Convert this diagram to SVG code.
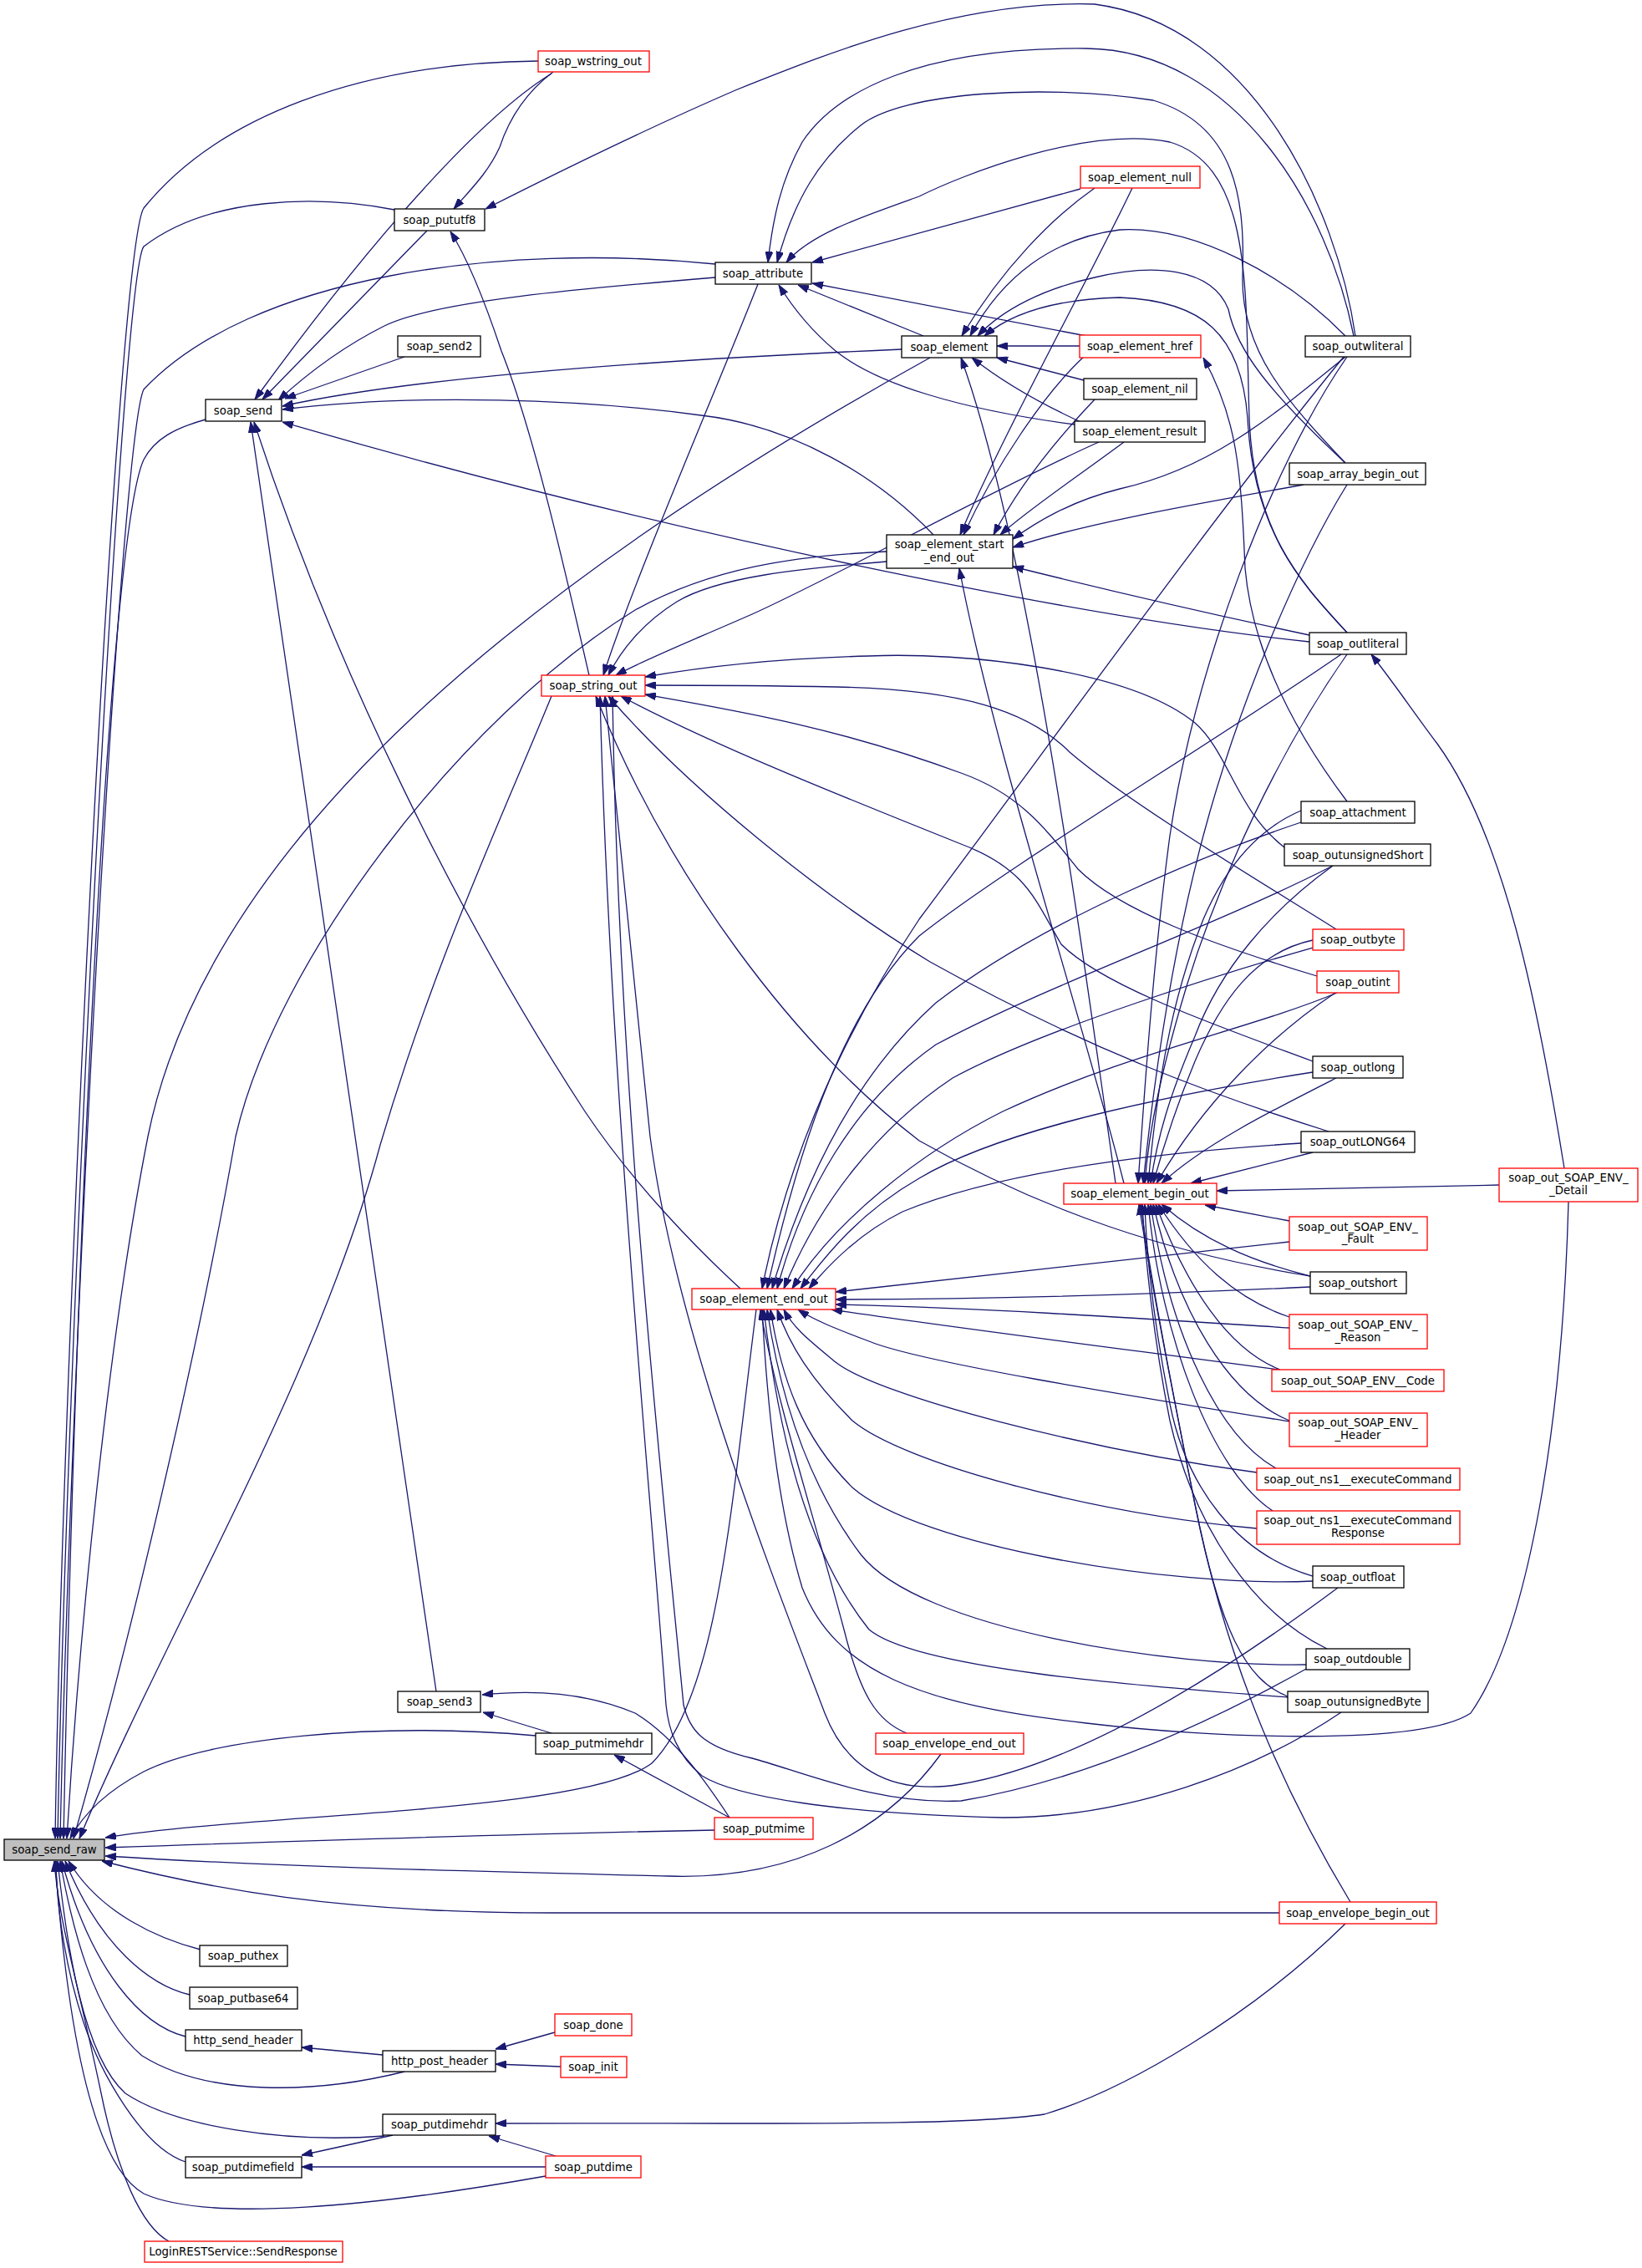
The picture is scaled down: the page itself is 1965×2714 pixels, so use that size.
<svg xmlns="http://www.w3.org/2000/svg" width="1965" height="2714" viewBox="0 0 1965 2714">
<style>
.n rect{fill:#fff;stroke:#000;stroke-width:1.3}
.n.r rect{stroke:#ff0000}
.n.g rect{fill:#bfbfbf}
text{font-family:"DejaVu Sans","Liberation Sans",sans-serif;font-size:13.3px;text-anchor:middle;fill:#000}
.e path{fill:none;stroke:#191970;stroke-width:1.3;marker-end:url(#a)}
</style>
<defs>
<marker id="a" markerUnits="userSpaceOnUse" viewBox="0 0 13 9" refX="13" refY="4.5" markerWidth="13" markerHeight="9" orient="auto">
<path d="M0,0 L13,4.5 L0,9 Z" fill="#191970" stroke="#191970" stroke-width="1"/>
</marker>
</defs>
<rect width="1965" height="2714" fill="#fff"/>
<g class="e" id="edges">
<path d="M644,73 C430,75 260,140 172,249 C140,300 75,1600 66,2200"/>
<path d="M472,251 C380,233 250,235 172,295 C145,330 80,1600 69,2200"/>
<path d="M856,316 C600,290 300,330 172,466 C145,520 85,1600 72,2200"/>
<path d="M246,502 C210,512 185,525 172,550 C130,640 90,1500 76,2200"/>
<path d="M1113,428 C640,690 250,1000 177,1360 C130,1600 95,1950 80,2200"/>
<path d="M1061,660 C950,665 850,680 760,730 C550,860 330,1150 282,1360 C240,1600 160,1950 88,2200"/>
<path d="M660,833 C600,980 520,1150 455,1370 C380,1650 200,1950 95,2200"/>
<path d="M905,1567 C875,1800 860,2030 780,2110 C700,2170 300,2170 126,2199"/>
<path d="M855,2190 C600,2195 300,2205 126,2211"/>
<path d="M1126,2099 C1060,2190 950,2250 800,2245 C600,2240 350,2235 126,2221"/>
<path d="M1531,2289 L660,2289 C400,2289 250,2260 122,2227"/>
<path d="M641,2077 C450,2060 250,2080 172,2120 C130,2142 100,2170 84,2200"/>
<path d="M240,2333 C190,2320 120,2290 82,2227"/>
<path d="M227,2387 C180,2376 120,2330 78,2227"/>
<path d="M222,2437 C170,2424 110,2360 74,2227"/>
<path d="M484,2479 C380,2505 250,2510 170,2460 C110,2410 85,2300 72,2227"/>
<path d="M460,2556 C340,2565 210,2545 150,2505 C100,2460 80,2330 69,2227"/>
<path d="M222,2587 C170,2570 120,2480 100,2420 C80,2360 68,2290 67,2227"/>
<path d="M653,2604 C450,2640 250,2660 172,2625 C110,2590 80,2420 66,2227"/>
<path d="M202,2682 C170,2665 140,2600 120,2500 C95,2380 70,2300 65,2227"/>
<path d="M662,86 C630,110 610,140 598,176 C585,205 565,225 543,250"/>
<path d="M1622,402 C1600,250 1500,30 1310,5 C1150,0 1000,60 880,108 C760,160 650,215 581,250"/>
<path d="M705,808 C680,700 640,520 600,420 C580,360 560,310 539,277"/>
<path d="M660,88 C560,150 420,320 305,478"/>
<path d="M511,276 L314,478"/>
<path d="M856,332 C700,345 520,360 460,390 C410,415 370,445 333,479"/>
<path d="M484,427 L341,477"/>
<path d="M1079,418 C800,430 500,450 338,486"/>
<path d="M1117,640 C1050,570 950,510 839,497 C700,478 500,470 338,490"/>
<path d="M1567,768 C1300,740 800,640 338,505"/>
<path d="M522,2024 L300,505"/>
<path d="M886,1542 C840,1500 760,1420 700,1330 C550,1100 400,800 304,505"/>
<path d="M1620,402 C1590,250 1480,60 1300,58 C1100,56 1000,110 960,170 C935,215 925,260 919,314"/>
<path d="M1610,554 C1540,480 1485,420 1487,330 C1490,240 1480,150 1380,120 C1250,100 1080,110 1030,150 C980,190 950,240 930,314"/>
<path d="M1612,757 C1560,700 1500,640 1495,500 C1490,350 1500,200 1400,170 C1300,150 1150,210 1100,235 C1030,260 970,280 941,314"/>
<path d="M1293,226 L972,314"/>
<path d="M1300,402 L972,339"/>
<path d="M1105,402 L955,341"/>
<path d="M1286,508 C1150,490 1050,460 1000,420 C970,395 950,370 932,341"/>
<path d="M1310,225 C1260,260 1200,320 1151,402"/>
<path d="M1610,402 C1540,330 1430,270 1340,275 C1260,285 1200,330 1161,402"/>
<path d="M1610,554 C1520,470 1480,420 1470,370 C1450,320 1380,315 1310,332 C1250,345 1200,370 1170,402"/>
<path d="M1612,757 C1560,700 1500,640 1493,500 C1485,400 1440,360 1340,356 C1260,358 1210,375 1178,402"/>
<path d="M1292,414 L1193,414"/>
<path d="M1297,455 L1193,428"/>
<path d="M1300,508 C1260,490 1210,465 1163,428"/>
<path d="M1335,1416 C1290,1100 1230,650 1150,428"/>
<path d="M1355,225 C1300,340 1200,520 1149,640"/>
<path d="M1298,426 C1250,470 1190,560 1153,640"/>
<path d="M1310,478 C1270,520 1220,580 1189,640"/>
<path d="M1345,529 C1290,570 1230,610 1197,640"/>
<path d="M1610,427 C1520,500 1450,560 1340,585 C1280,600 1240,625 1212,645"/>
<path d="M1560,580 C1450,600 1300,625 1212,655"/>
<path d="M1567,760 C1450,735 1300,700 1212,678"/>
<path d="M1345,1416 C1290,1200 1190,900 1148,680"/>
<path d="M907,340 C860,460 760,690 722,808"/>
<path d="M1061,672 C960,680 860,690 810,720 C770,745 745,775 728,808"/>
<path d="M1315,529 C1200,580 1000,690 900,735 C820,770 770,790 737,808"/>
<path d="M1537,1014 C1480,970 1470,900 1430,865 C1350,800 1150,780 1040,785 C920,788 830,800 772,810"/>
<path d="M1599,1112 C1500,1050 1350,960 1280,900 C1230,850 1150,825 1000,822 C900,820 830,820 772,820"/>
<path d="M1576,1168 C1450,1130 1340,1090 1290,1040 C1250,990 1220,950 1150,925 C1000,870 880,850 772,831"/>
<path d="M1571,1270 C1450,1225 1320,1180 1270,1130 C1240,1080 1230,1040 1150,1010 C1000,950 850,890 743,833"/>
<path d="M1590,1354 C1450,1310 1300,1255 1113,1151 C980,1070 820,940 728,833"/>
<path d="M1568,1527 C1400,1500 1250,1450 1100,1365 C950,1250 800,1050 713,833"/>
<path d="M1601,1900 C1480,1990 1300,2110 1150,2135 C1060,2150 1010,2110 987,2050 C930,1900 810,1600 778,1360 C755,1150 735,950 724,833"/>
<path d="M1565,1996 C1450,2060 1300,2130 1150,2155 C1050,2160 960,2120 900,2104 C840,2090 825,2070 818,2040 C790,1750 740,1300 733,833"/>
<path d="M1605,2049 C1500,2120 1350,2175 1200,2175 C1000,2170 880,2150 840,2125 C810,2100 800,2070 797,2040 C780,1800 730,1300 718,833"/>
<path d="M1612,959 C1560,890 1500,790 1490,680 C1485,560 1480,500 1440,428"/>
<path d="M1872,1398 C1840,1200 1800,1000 1720,890 C1690,850 1670,820 1641,783"/>
<path d="M1608,427 C1450,620 1250,900 1100,1100 C1000,1250 940,1400 912,1542"/>
<path d="M1605,783 C1450,890 1200,1040 1100,1120 C1000,1220 950,1400 918,1542"/>
<path d="M1557,984 C1450,1020 1250,1100 1120,1200 C1020,1290 960,1420 924,1542"/>
<path d="M1595,1036 C1450,1110 1250,1180 1120,1250 C1020,1320 960,1430 930,1542"/>
<path d="M1571,1134 C1480,1160 1250,1230 1140,1290 C1050,1350 980,1440 938,1542"/>
<path d="M1600,1188 C1500,1230 1350,1260 1200,1330 C1100,1380 1000,1460 948,1542"/>
<path d="M1571,1283 C1400,1310 1200,1350 1100,1410 C1030,1450 990,1500 958,1542"/>
<path d="M1557,1368 C1400,1378 1200,1400 1080,1450 C1030,1475 995,1510 968,1542"/>
<path d="M1543,1486 C1400,1502 1200,1525 1000,1546"/>
<path d="M1568,1540 C1400,1548 1200,1555 1000,1555"/>
<path d="M1543,1589 C1400,1580 1200,1566 1000,1561"/>
<path d="M1530,1639 C1350,1615 1150,1590 995,1567"/>
<path d="M1543,1701 C1350,1670 1100,1630 1040,1605 C1000,1590 975,1580 955,1567"/>
<path d="M1504,1762 C1300,1735 1050,1670 1000,1630 C970,1605 950,1590 938,1567"/>
<path d="M1504,1829 C1300,1810 1080,1750 1020,1700 C970,1650 945,1610 930,1567"/>
<path d="M1571,1892 C1400,1900 1100,1850 1020,1780 C960,1720 935,1650 922,1567"/>
<path d="M1563,1992 C1400,1995 1100,1950 1030,1860 C970,1780 935,1680 918,1567"/>
<path d="M1541,2031 C1400,2020 1100,2000 1040,1950 C960,1850 930,1700 914,1567"/>
<path d="M1877,1438 C1870,1700 1830,1950 1760,2050 C1700,2090 1450,2080 1300,2062 C1100,2040 1000,2000 960,1900 C930,1800 918,1680 912,1567"/>
<path d="M1085,2074 C1050,2060 1030,2030 1010,1950 C970,1800 930,1680 910,1567"/>
<path d="M1612,427 C1520,560 1430,800 1400,1000 C1380,1150 1370,1300 1362,1416"/>
<path d="M1612,580 C1550,680 1480,850 1440,1000 C1400,1150 1380,1300 1368,1416"/>
<path d="M1612,783 C1530,900 1460,1050 1420,1180 C1390,1280 1375,1350 1370,1416"/>
<path d="M1557,970 C1510,990 1470,1030 1440,1100 C1400,1200 1385,1300 1374,1416"/>
<path d="M1595,1036 C1520,1090 1460,1160 1430,1240 C1400,1310 1385,1360 1377,1416"/>
<path d="M1571,1125 C1500,1140 1460,1200 1430,1270 C1405,1330 1390,1380 1380,1416"/>
<path d="M1598,1188 C1520,1240 1440,1320 1384,1416"/>
<path d="M1599,1290 C1520,1330 1440,1370 1390,1416"/>
<path d="M1571,1379 L1425,1416"/>
<path d="M1794,1418 L1456,1425"/>
<path d="M1543,1461 L1442,1442"/>
<path d="M1568,1527 C1500,1510 1440,1485 1390,1441"/>
<path d="M1543,1576 C1480,1555 1430,1510 1386,1441"/>
<path d="M1532,1639 C1470,1615 1420,1540 1383,1441"/>
<path d="M1543,1700 C1470,1670 1410,1570 1380,1441"/>
<path d="M1527,1757 C1460,1720 1400,1600 1377,1441"/>
<path d="M1523,1808 C1450,1760 1390,1600 1374,1441"/>
<path d="M1571,1886 C1480,1860 1420,1780 1400,1680 C1380,1580 1372,1500 1370,1441"/>
<path d="M1588,1973 C1500,1930 1430,1830 1400,1700 C1380,1600 1370,1500 1367,1441"/>
<path d="M1541,2030 C1490,2010 1460,1950 1430,1800 C1400,1650 1375,1520 1365,1441"/>
<path d="M1616,2276 C1540,2150 1470,2000 1430,1800 C1400,1650 1375,1520 1363,1441"/>
<path d="M660,2074 L578,2049"/>
<path d="M873,2175 C850,2140 810,2080 760,2050 C700,2025 640,2022 577,2028"/>
<path d="M873,2175 L735,2100"/>
<path d="M458,2459 L361,2450"/>
<path d="M664,2432 L593,2452"/>
<path d="M671,2473 L593,2470"/>
<path d="M1610,2302 C1500,2410 1350,2500 1250,2530 C1150,2545 900,2540 593,2541"/>
<path d="M665,2580 L585,2556"/>
<path d="M470,2555 L361,2579"/>
<path d="M653,2593 L361,2593"/>
</g>
<g id="soap_send_raw" class="n g"><rect x="5" y="2201" width="120" height="25"/><text x="65" y="2218">soap_send_raw</text></g>
<g id="soap_wstring_out" class="n r"><rect x="644" y="61" width="133" height="25"/><text x="710" y="78">soap_wstring_out</text></g>
<g id="soap_pututf8" class="n"><rect x="472" y="250" width="108" height="26"/><text x="526" y="268">soap_pututf8</text></g>
<g id="soap_send" class="n"><rect x="246" y="478" width="91" height="26"/><text x="291" y="496">soap_send</text></g>
<g id="soap_send2" class="n"><rect x="476" y="402" width="99" height="25"/><text x="526" y="419">soap_send2</text></g>
<g id="soap_attribute" class="n"><rect x="856" y="314" width="115" height="26"/><text x="913" y="332">soap_attribute</text></g>
<g id="soap_element" class="n"><rect x="1079" y="402" width="114" height="26"/><text x="1136" y="420">soap_element</text></g>
<g id="soap_element_null" class="n r"><rect x="1293" y="199" width="143" height="26"/><text x="1364" y="217">soap_element_null</text></g>
<g id="soap_element_href" class="n r"><rect x="1292" y="401" width="145" height="27"/><text x="1364" y="419">soap_element_href</text></g>
<g id="soap_element_nil" class="n"><rect x="1297" y="453" width="135" height="25"/><text x="1364" y="470">soap_element_nil</text></g>
<g id="soap_element_result" class="n"><rect x="1286" y="504" width="156" height="25"/><text x="1364" y="521">soap_element_result</text></g>
<g id="soap_element_start_end_out" class="n"><rect x="1061" y="640" width="151" height="40"/><text x="1136" y="656">soap_element_start</text><text x="1136" y="672">_end_out</text></g>
<g id="soap_outwliteral" class="n"><rect x="1562" y="402" width="126" height="25"/><text x="1625" y="419">soap_outwliteral</text></g>
<g id="soap_array_begin_out" class="n"><rect x="1543" y="554" width="163" height="26"/><text x="1625" y="572">soap_array_begin_out</text></g>
<g id="soap_outliteral" class="n"><rect x="1567" y="757" width="116" height="26"/><text x="1625" y="775">soap_outliteral</text></g>
<g id="soap_string_out" class="n r"><rect x="648" y="808" width="124" height="25"/><text x="710" y="825">soap_string_out</text></g>
<g id="soap_attachment" class="n"><rect x="1557" y="959" width="136" height="26"/><text x="1625" y="977">soap_attachment</text></g>
<g id="soap_outunsignedShort" class="n"><rect x="1537" y="1010" width="175" height="26"/><text x="1625" y="1028">soap_outunsignedShort</text></g>
<g id="soap_outbyte" class="n r"><rect x="1571" y="1112" width="109" height="25"/><text x="1625" y="1129">soap_outbyte</text></g>
<g id="soap_outint" class="n r"><rect x="1576" y="1162" width="98" height="26"/><text x="1625" y="1180">soap_outint</text></g>
<g id="soap_outlong" class="n"><rect x="1571" y="1264" width="108" height="26"/><text x="1625" y="1282">soap_outlong</text></g>
<g id="soap_outLONG64" class="n"><rect x="1557" y="1354" width="136" height="25"/><text x="1625" y="1371">soap_outLONG64</text></g>
<g id="soap_element_begin_out" class="n r"><rect x="1273" y="1416" width="183" height="25"/><text x="1364" y="1433">soap_element_begin_out</text></g>
<g id="soap_out_SOAP_ENV__Detail" class="n r"><rect x="1794" y="1398" width="166" height="40"/><text x="1877" y="1414">soap_out_SOAP_ENV_</text><text x="1877" y="1429">_Detail</text></g>
<g id="soap_out_SOAP_ENV__Fault" class="n r"><rect x="1543" y="1456" width="165" height="40"/><text x="1625" y="1473">soap_out_SOAP_ENV_</text><text x="1625" y="1487">_Fault</text></g>
<g id="soap_outshort" class="n"><rect x="1568" y="1522" width="115" height="26"/><text x="1625" y="1540">soap_outshort</text></g>
<g id="soap_out_SOAP_ENV__Reason" class="n r"><rect x="1543" y="1573" width="165" height="41"/><text x="1625" y="1590">soap_out_SOAP_ENV_</text><text x="1625" y="1605">_Reason</text></g>
<g id="soap_out_SOAP_ENV__Code" class="n r"><rect x="1522" y="1639" width="206" height="26"/><text x="1625" y="1657">soap_out_SOAP_ENV__Code</text></g>
<g id="soap_out_SOAP_ENV__Header" class="n r"><rect x="1543" y="1691" width="165" height="40"/><text x="1625" y="1707">soap_out_SOAP_ENV_</text><text x="1625" y="1722">_Header</text></g>
<g id="soap_out_ns1__executeCommand" class="n r"><rect x="1504" y="1757" width="243" height="26"/><text x="1625" y="1775">soap_out_ns1__executeCommand</text></g>
<g id="soap_out_ns1__executeCommandResponse" class="n r"><rect x="1504" y="1808" width="243" height="40"/><text x="1625" y="1824">soap_out_ns1__executeCommand</text><text x="1625" y="1839">Response</text></g>
<g id="soap_outfloat" class="n"><rect x="1571" y="1874" width="109" height="26"/><text x="1625" y="1892">soap_outfloat</text></g>
<g id="soap_outdouble" class="n"><rect x="1563" y="1973" width="124" height="25"/><text x="1625" y="1990">soap_outdouble</text></g>
<g id="soap_outunsignedByte" class="n"><rect x="1541" y="2024" width="168" height="25"/><text x="1625" y="2041">soap_outunsignedByte</text></g>
<g id="soap_element_end_out" class="n r"><rect x="828" y="1542" width="172" height="25"/><text x="914" y="1559">soap_element_end_out</text></g>
<g id="soap_send3" class="n"><rect x="476" y="2024" width="99" height="25"/><text x="526" y="2041">soap_send3</text></g>
<g id="soap_putmimehdr" class="n"><rect x="641" y="2074" width="139" height="25"/><text x="710" y="2091">soap_putmimehdr</text></g>
<g id="soap_envelope_end_out" class="n r"><rect x="1048" y="2074" width="177" height="25"/><text x="1136" y="2091">soap_envelope_end_out</text></g>
<g id="soap_putmime" class="n r"><rect x="855" y="2175" width="118" height="26"/><text x="914" y="2193">soap_putmime</text></g>
<g id="soap_envelope_begin_out" class="n r"><rect x="1531" y="2276" width="188" height="26"/><text x="1625" y="2294">soap_envelope_begin_out</text></g>
<g id="soap_puthex" class="n"><rect x="239" y="2328" width="105" height="25"/><text x="291" y="2345">soap_puthex</text></g>
<g id="soap_putbase64" class="n"><rect x="227" y="2378" width="129" height="26"/><text x="291" y="2396">soap_putbase64</text></g>
<g id="http_send_header" class="n"><rect x="222" y="2429" width="139" height="25"/><text x="291" y="2446">http_send_header</text></g>
<g id="http_post_header" class="n"><rect x="458" y="2454" width="135" height="25"/><text x="526" y="2471">http_post_header</text></g>
<g id="soap_done" class="n r"><rect x="664" y="2410" width="92" height="26"/><text x="710" y="2428">soap_done</text></g>
<g id="soap_init" class="n r"><rect x="671" y="2461" width="79" height="25"/><text x="710" y="2478">soap_init</text></g>
<g id="soap_putdimehdr" class="n"><rect x="458" y="2530" width="135" height="25"/><text x="526" y="2547">soap_putdimehdr</text></g>
<g id="soap_putdimefield" class="n"><rect x="222" y="2581" width="139" height="25"/><text x="291" y="2598">soap_putdimefield</text></g>
<g id="soap_putdime" class="n r"><rect x="653" y="2580" width="114" height="26"/><text x="710" y="2598">soap_putdime</text></g>
<g id="LoginRESTService_SendResponse" class="n r"><rect x="173" y="2682" width="237" height="25"/><text x="291" y="2699">LoginRESTService::SendResponse</text></g>
</svg>
